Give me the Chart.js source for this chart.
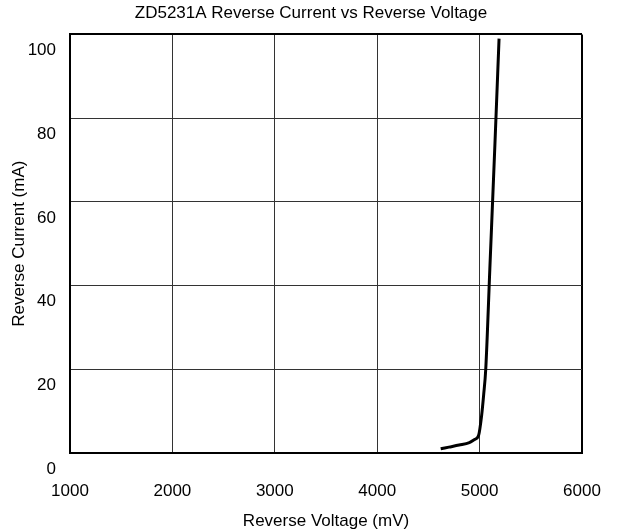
<!DOCTYPE html>
<html>
<head>
<meta charset="utf-8">
<script src="https://cdn.jsdelivr.net/npm/chart.js@4"></script>
<style>
  html, body { margin: 0; padding: 0; background: #fff; }
  #wrap { width: 622px; height: 531px; }
</style>
</head>
<body>
<div id="wrap"><canvas id="chart" width="622" height="531"></canvas></div>
<script>
// Reverse voltage (mV) / reverse current (mA)
const voltages = [4620, 4700, 4800, 4900, 4950, 4990, 5020, 5040, 5060, 5100, 5150, 5190];
const currents = [1.0, 1.4, 1.9, 2.5, 3.2, 4.2, 9, 14, 20, 44, 74, 99];

const xTicks = [1000, 2000, 3000, 4000, 5000, 6000];
const yTicks = [0, 20, 40, 60, 80, 100];

const FONT = "'Liberation Sans', Arial, sans-serif";

const points = voltages.map((v, i) => ({ x: v, y: currents[i] }));

// Edge gridlines double as the plot frame, so draw them darker
function gridColor(ctx) {
  const v = ctx.tick && ctx.tick.value;
  return (v === 100 || v === 6000) ? '#000' : '#333';
}
function gridWidth(ctx) {
  const v = ctx.tick && ctx.tick.value;
  return (v === 100 || v === 6000) ? 2 : 1;
}

new Chart(document.getElementById('chart'), {
  type: 'line',
  data: {
    datasets: [{
      data: points,
      borderColor: '#000',
      borderWidth: 3,
      pointRadius: 0,
      cubicInterpolationMode: 'monotone',
      fill: false
    }]
  },
  options: {
    responsive: false,
    animation: false,
    layout: { padding: 0 },
    plugins: {
      legend: { display: false },
      tooltip: { enabled: false },
      title: {
        display: true,
        text: 'ZD5231A Reverse Current vs Reverse Voltage',
        color: '#000',
        font: { family: FONT, size: 17, weight: 'normal' },
        padding: { top: 3, bottom: 11 }
      }
    },
    scales: {
      x: {
        type: 'linear',
        min: xTicks[0],
        max: xTicks[xTicks.length - 1],
        afterBuildTicks: (scale) => { scale.ticks = xTicks.map(v => ({ value: v })); },
        afterFit: (scale) => {
          scale.height = 78;
          // the big tick padding would otherwise widen the side margins
          scale.paddingLeft = 0;
          scale.paddingRight = 0;
        },
        border: { display: true, color: '#000', width: 2 },
        grid: { color: gridColor, lineWidth: gridWidth, drawTicks: false },
        ticks: {
          color: '#000',
          padding: 28,
          maxRotation: 0,
          font: { family: FONT, size: 17 },
          callback: (v) => String(v)
        },
        title: {
          display: true,
          text: 'Reverse Voltage (mV)',
          color: '#000',
          font: { family: FONT, size: 17 },
          padding: { top: 0, bottom: -1 }
        }
      },
      y: {
        type: 'linear',
        min: yTicks[0],
        max: yTicks[yTicks.length - 1],
        afterBuildTicks: (scale) => { scale.ticks = yTicks.map(v => ({ value: v })); },
        afterFit: (scale) => { scale.width = 70; },
        border: { display: true, color: '#000', width: 2 },
        grid: { color: gridColor, lineWidth: gridWidth, drawTicks: false },
        ticks: {
          color: '#000',
          padding: 14,
          labelOffset: 16,
          font: { family: FONT, size: 17 },
          callback: (v) => String(v)
        },
        title: {
          display: true,
          text: 'Reverse Current (mA)',
          color: '#000',
          font: { family: FONT, size: 17 },
          padding: { top: 9, bottom: 0 }
        }
      },
      // empty right-hand axis: only reserves the margin right of the plot
      yRight: {
        type: 'linear',
        position: 'right',
        min: yTicks[0],
        max: yTicks[yTicks.length - 1],
        afterFit: (scale) => { scale.width = 40; },
        border: { display: false },
        grid: { display: false, drawTicks: false },
        ticks: { display: false }
      }
    }
  }
});
</script>
</body>
</html>
